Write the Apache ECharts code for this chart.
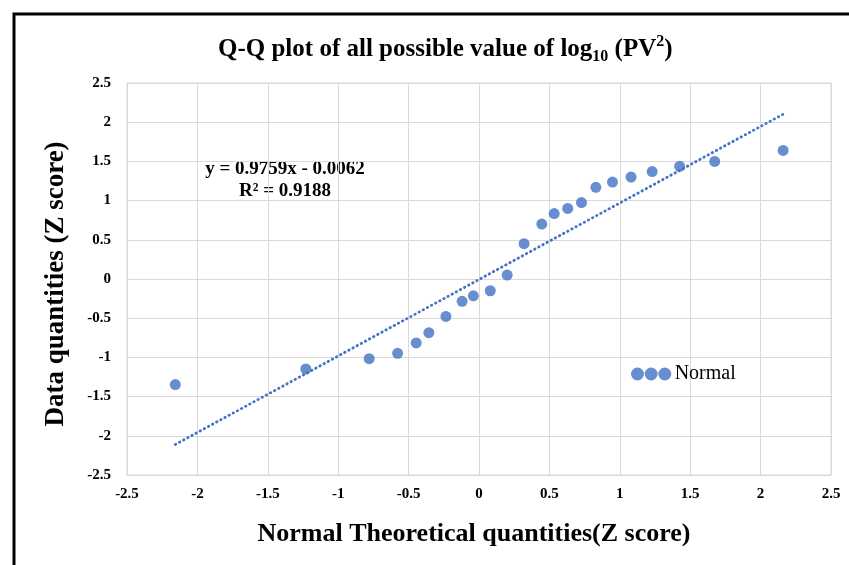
<!DOCTYPE html>
<html>
<head>
<meta charset="utf-8">
<title>Q-Q plot</title>
<script src="https://cdn.jsdelivr.net/npm/echarts@6/dist/echarts.min.js"></script>
<style>
  html, body { margin: 0; padding: 0; background: #fff; }
  #chart { width: 849px; height: 565px; }
</style>
</head>
<body>
<div id="chart"></div>
<script>
// Theoretical normal quantiles (x) and observed standardized values (y)
const zTheoretical = [-2.157, -1.23, -0.78, -0.578, -0.446, -0.356, -0.235, -0.12, -0.04, 0.08, 0.2, 0.32, 0.446, 0.534, 0.63, 0.728, 0.83, 0.948, 1.08, 1.23, 1.425, 1.674, 2.16];
const zData = [-1.347, -1.148, -1.016, -0.948, -0.816, -0.684, -0.478, -0.284, -0.215, -0.15, 0.05, 0.45, 0.70, 0.834, 0.90, 0.975, 1.17, 1.237, 1.30, 1.37, 1.437, 1.50, 1.64];

// Linear fit reported for the points
const fitSlope = [0.9759];
const fitIntercept = [-0.0062];
const fitR2 = [0.9188];

// Axis ticks
const xTicks = [-2.5, -2, -1.5, -1, -0.5, 0, 0.5, 1, 1.5, 2, 2.5];
const yTicks = [-2.5, -2, -1.5, -1, -0.5, 0, 0.5, 1, 1.5, 2, 2.5];

const seriesName = 'Normal';
const SERIF = '"Liberation Serif", "Times New Roman", serif';
const BLUE = '#4472C4';

const points = zTheoretical.map((x, i) => [x, zData[i]]);
const xMin = Math.min(...zTheoretical);
const xMax = Math.max(...zTheoretical);
const trend = [xMin, xMax].map(x => [x, fitSlope[0] * x + fitIntercept[0]]);

const eqText = 'y = ' + fitSlope[0].toFixed(4) + 'x - ' + Math.abs(fitIntercept[0]).toFixed(4) +
  '\nR² = ' + fitR2[0].toFixed(4);

const chart = echarts.init(document.getElementById('chart'), null, { renderer: 'canvas' });

const tickLabel = { color: '#000', fontFamily: SERIF, fontWeight: 'bold', fontSize: 15 };

chart.setOption({
  backgroundColor: '#fff',
  animation: false,
  title: {
    text: '{a|Q-Q plot of all possible value of log}{sub|10}{a| (PV}{sup|2}{a|)}',
    left: 213,
    top: 29,
    textStyle: {
      rich: {
        a: { fontFamily: SERIF, fontWeight: 'bold', fontSize: 25, color: '#000', lineHeight: 31 },
        sub: { fontFamily: SERIF, fontWeight: 'bold', fontSize: 16, color: '#000', lineHeight: 16, verticalAlign: 'bottom' },
        sup: { fontFamily: SERIF, fontWeight: 'bold', fontSize: 16, color: '#000', lineHeight: 16, verticalAlign: 'top' }
      }
    }
  },
  grid: {
    left: 127, top: 83, width: 704, height: 392,
    show: true, borderColor: '#d9d9d9', borderWidth: 1
  },
  legend: {
    data: [seriesName],
    left: 631, top: 364, padding: 0,
    itemWidth: 41, itemHeight: 13, itemGap: 0,
    icon: 'path://M0,1a1,1 0 1,0 2,0a1,1 0 1,0 -2,0zM2.1,1a1,1 0 1,0 2,0a1,1 0 1,0 -2,0zM4.2,1a1,1 0 1,0 2,0a1,1 0 1,0 -2,0z',
    textStyle: { fontFamily: SERIF, fontSize: 20, color: '#000', padding: [0, 0, 0, -2] }
  },
  xAxis: {
    type: 'value',
    min: xTicks[0], max: xTicks[xTicks.length - 1], interval: 0.5,
    name: 'Normal Theoretical quantities(Z score)',
    nameLocation: 'middle', nameGap: 46,
    nameTextStyle: { fontFamily: SERIF, fontWeight: 'bold', fontSize: 26, color: '#000', padding: [0, 10, 0, 0] },
    axisLine: { show: false }, axisTick: { show: false },
    axisLabel: Object.assign({ margin: 12, formatter: v => String(v) }, tickLabel),
    splitLine: { show: true, lineStyle: { color: '#d9d9d9', width: 1 } }
  },
  yAxis: {
    type: 'value',
    min: yTicks[0], max: yTicks[yTicks.length - 1], interval: 0.5,
    name: 'Data quantities (Z score)',
    nameLocation: 'middle', nameGap: 57,
    nameTextStyle: { fontFamily: SERIF, fontWeight: 'bold', fontSize: 27, color: '#000', padding: [0, 10, 0, 0] },
    axisLine: { show: false }, axisTick: { show: false },
    axisLabel: Object.assign({ margin: 16, formatter: v => String(v) }, tickLabel),
    splitLine: { show: true, lineStyle: { color: '#d9d9d9', width: 1 } }
  },
  series: [
    {
      name: 'trend',
      type: 'line',
      data: trend,
      symbol: 'none',
      silent: true,
      lineStyle: { color: BLUE, width: 2.8, type: [0.5, 4.2], cap: 'round' },
      z: 2
    },
    {
      name: seriesName,
      type: 'scatter',
      data: points,
      symbol: 'circle',
      symbolSize: 11,
      itemStyle: { color: BLUE },
      z: 3
    }
  ],
  graphic: [
    {
      type: 'polyline',
      shape: { points: [[14, 565], [14, 14], [849, 14]] },
      style: { stroke: '#000', lineWidth: 3, fill: null },
      silent: true
    },
    {
      type: 'text',
      x: 285, y: 180,
      style: {
        text: eqText,
        fontFamily: SERIF, fontWeight: 'bold', fontSize: 19, fill: '#000',
        align: 'center', verticalAlign: 'middle', lineHeight: 22
      },
      silent: true
    }
  ]
});
</script>
</body>
</html>
